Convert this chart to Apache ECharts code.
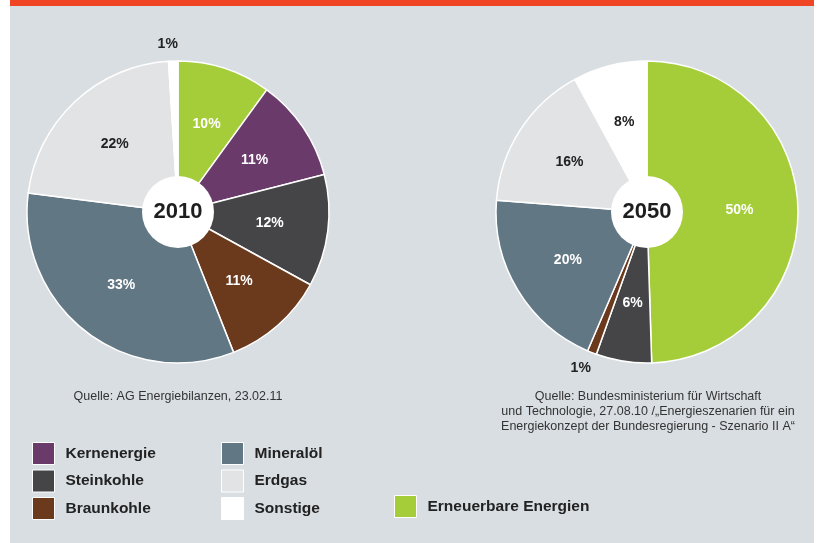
<!DOCTYPE html>
<html>
<head>
<meta charset="utf-8">
<script src="https://cdn.jsdelivr.net/npm/echarts@6/dist/echarts.min.js"></script>
<style>
  html, body { margin: 0; padding: 0; background: #ffffff; }
  #chart { width: 817px; height: 543px; }
</style>
</head>
<body>
<div id="chart"></div>
<script>
// Energy sources, in drawing order (clockwise from 12 o'clock)
const categories = ['Erneuerbare Energien', 'Kernenergie', 'Steinkohle', 'Braunkohle', 'Mineralöl', 'Erdgas', 'Sonstige'];
const colors = ['#a5cd39', '#6a3b6a', '#454548', '#6b3a1c', '#627784', '#e2e3e5', '#ffffff'];
// Share of primary energy consumption, percent
const share2010 = [10, 11, 12, 11, 33, 22, 1];
const share2050 = [50, 0, 6, 1, 20, 16, 8];
// Legend columns
const legendCol1 = ['Kernenergie', 'Steinkohle', 'Braunkohle'];
const legendCol2 = ['Mineralöl', 'Erdgas', 'Sonstige'];
const legendCol3 = ['Erneuerbare Energien'];
const source2010 = 'Quelle: AG Energiebilanzen, 23.02.11';
const source2050 = 'Quelle: Bundesministerium für Wirtschaft\nund Technologie, 27.08.10 /„Energieszenarien für ein\nEnergiekonzept der Bundesregierung - Szenario II A“';

const FONT = '"Liberation Sans", Arial, Helvetica, sans-serif';
const darkText = '#222222';
const lightSlices = ['Erdgas', 'Sonstige'];

function sliceData(values) {
  const out = [];
  values.forEach((v, i) => {
    if (v <= 0) return;
    const name = categories[i];
    const item = {
      name: name,
      value: v,
      itemStyle: { color: colors[i] },
      label: { color: lightSlices.includes(name) ? darkText : '#ffffff' }
    };
    // very thin slices carry their label outside the rim
    if (v <= 1) {
      item.label = { position: 'outside', color: darkText };
      item.labelLine = { show: false, length: 17, length2: 0 };
    }
    out.push(item);
  });
  return out;
}

function pieSeries(values, cx) {
  const data = sliceData(values);
  return {
    type: 'pie',
    center: [cx, 212],
    radius: [28, 151],
    startAngle: 90,
    clockwise: true,
    avoidLabelOverlap: false,
    silent: true,
    itemStyle: { borderColor: '#ffffff', borderWidth: 1.5 },
    label: {
      show: true,
      position: 'inside',
      formatter: '{c}%',
      fontFamily: FONT,
      fontWeight: 'bold',
      fontSize: 14
    },
    labelLine: { show: false },
    labelLayout: function (p) {
      const d = data[p.dataIndex];
      return d && d.value <= 1 ? { align: 'center', verticalAlign: 'middle' } : {};
    },
    data: data
  };
}

function hubSeries(year, cx) {
  return {
    type: 'pie',
    center: [cx, 212],
    radius: [0, 36],
    silent: true,
    z: 5,
    itemStyle: { color: '#ffffff' },
    label: {
      show: true,
      position: 'center',
      formatter: '{b}',
      fontFamily: FONT,
      fontWeight: 'bold',
      fontSize: 22,
      color: '#1e1e1e'
    },
    labelLine: { show: false },
    data: [{ name: year, value: 1 }]
  };
}

function legendCol(data, left, top) {
  return {
    data: data,
    left: left,
    top: top,
    orient: 'vertical',
    padding: 0,
    itemWidth: 22,
    itemHeight: 22,
    itemGap: 4.5,
    icon: 'rect',
    selectedMode: false,
    itemStyle: { borderColor: '#ffffff', borderWidth: 1 },
    textStyle: {
      fontFamily: FONT,
      fontWeight: 'bold',
      fontSize: 15.5,
      color: darkText,
      padding: [0, 0, 0, 6]
    }
  };
}

const chart = echarts.init(document.getElementById('chart'), null, { renderer: 'canvas' });
chart.setOption({
  animation: false,
  backgroundColor: '#ffffff',
  graphic: [
    { type: 'rect', z: -10, shape: { x: 10, y: 0, width: 804, height: 543 }, style: { fill: '#d9dee2' } },
    { type: 'rect', z: -9, shape: { x: 10, y: 0, width: 804, height: 6 }, style: { fill: '#f04524' } },
    {
      type: 'text', z: 10,
      style: { text: source2010, x: 178, y: 390, textAlign: 'center', font: '12.5px ' + FONT, fill: '#333333' }
    },
    {
      type: 'text', z: 10,
      style: { text: source2050, x: 648, y: 389, textAlign: 'center', font: '12.5px ' + FONT, fill: '#333333', lineHeight: 15 }
    }
  ],
  legend: [
    legendCol(legendCol1, 32, 442),
    legendCol(legendCol2, 221, 442),
    legendCol(legendCol3, 394, 495)
  ],
  series: [
    pieSeries(share2010, 178),
    hubSeries('2010', 178),
    pieSeries(share2050, 647),
    hubSeries('2050', 647)
  ]
});
</script>
</body>
</html>
